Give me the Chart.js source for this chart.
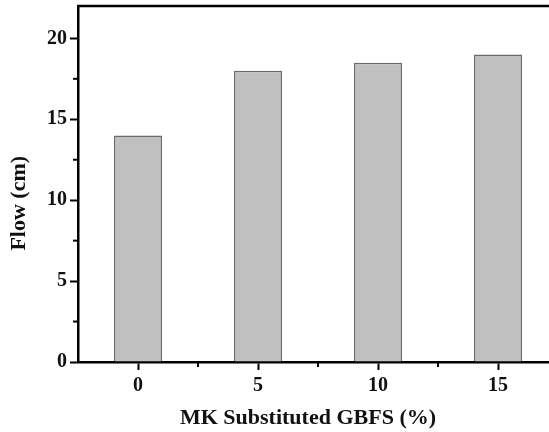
<!DOCTYPE html>
<html>
<head>
<meta charset="utf-8">
<script src="https://cdn.jsdelivr.net/npm/chart.js@4.4.1/dist/chart.umd.min.js"></script>
<style>
  html, body { margin: 0; padding: 0; background: #fff; overflow: hidden; }
</style>
</head>
<body>
<canvas id="chart" width="549" height="432"></canvas>
<script>
// MK content (%) and flow (cm)
var mkContent = [0, 5, 10, 15];
var flowValues = [14, 18, 18.5, 19];
var xTickValues = [0, 5, 10, 15];
var yTickValues = [0, 5, 10, 15, 20];
var xMinorTicks = [2.5, 7.5, 12.5];
var yMinorTicks = [2.5, 7.5, 12.5, 17.5];

var serif = '"Liberation Serif", "Times New Roman", serif';

// short minor ticks + top frame line
var frame = {
  id: 'frame',
  afterDraw: function(chart) {
    var c = chart.ctx, a = chart.chartArea;
    var xs = chart.scales.x, ys = chart.scales.y;
    c.save();
    c.strokeStyle = '#000';
    c.lineWidth = 2.5;
    c.beginPath();
    c.moveTo(a.left - 1, a.top);
    c.lineTo(a.right, a.top);
    c.stroke();
    c.lineWidth = 2;
    xMinorTicks.forEach(function(v) {
      var px = xs.getPixelForValue(v);
      c.beginPath();
      c.moveTo(px, a.bottom);
      c.lineTo(px, a.bottom + 5);
      c.stroke();
    });
    yMinorTicks.forEach(function(v) {
      var py = ys.getPixelForValue(v);
      c.beginPath();
      c.moveTo(a.left, py);
      c.lineTo(a.left - 5, py);
      c.stroke();
    });
    c.restore();
  }
};

var ctx = document.getElementById('chart').getContext('2d');
new Chart(ctx, {
  type: 'bar',
  data: {
    datasets: [{
      data: mkContent.map(function(x, i) { return { x: x, y: flowValues[i] }; }),
      backgroundColor: '#c0c0c0',
      borderColor: '#6a6a6a',
      borderWidth: 1.5,
      barPercentage: 0.4,
      categoryPercentage: 1
    }]
  },
  options: {
    responsive: false,
    animation: false,
    layout: { padding: { top: 6, left: 0, right: 0, bottom: 0 } },
    plugins: { legend: { display: false }, tooltip: { enabled: false } },
    scales: {
      x: {
        type: 'linear',
        min: -2.5,
        max: 17.125,
        offset: false,
        afterBuildTicks: function(scale) {
          scale.ticks = xTickValues.map(function(v) { return { value: v }; });
        },
        afterFit: function(scale) { scale.height = 70; },
        grid: { display: true, drawOnChartArea: false, drawTicks: true, tickLength: 8, tickWidth: 2, tickColor: '#000', offset: false },
        border: { display: true, color: '#000', width: 2.5 },
        ticks: { color: '#111', padding: 4, maxRotation: 0, font: { family: serif, size: 20, weight: 'bold' } },
        title: { display: true, text: 'MK Substituted GBFS (%)  ', color: '#111', padding: { top: 0, bottom: 0 }, font: { family: serif, size: 22, weight: 'bold' } }
      },
      y: {
        min: 0,
        max: 22,
        afterBuildTicks: function(scale) {
          scale.ticks = yTickValues.map(function(v) { return { value: v }; });
        },
        afterFit: function(scale) {
          scale.width = 78;
          scale.paddingTop = 0;
          scale.paddingBottom = 0;
        },
        grid: { display: true, drawOnChartArea: false, drawTicks: true, tickLength: 8, tickWidth: 2, tickColor: '#000' },
        border: { display: true, color: '#000', width: 2.5 },
        ticks: { color: '#111', padding: 3, font: { family: serif, size: 20, weight: 'bold' } },
        title: { display: true, text: 'Flow (cm)       ', color: '#111', padding: { top: 6, bottom: 0 }, font: { family: serif, size: 22, weight: 'bold' } }
      }
    }
  },
  plugins: [frame]
});
</script>
</body>
</html>
